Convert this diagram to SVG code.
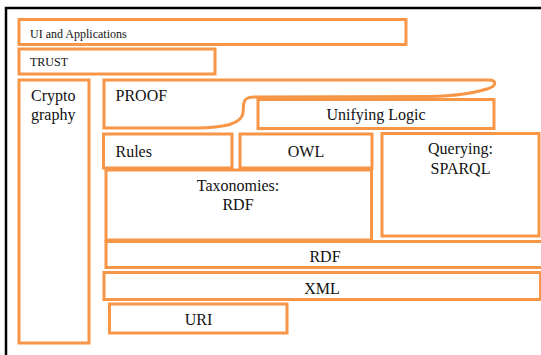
<svg xmlns="http://www.w3.org/2000/svg" width="541" height="355" viewBox="0 0 541 355">
<style>
.b{fill:#fff;stroke:#F79646;stroke-width:3}
text{font-family:'Liberation Serif',serif;fill:#111}
.s{font-size:12px}
.l{font-size:16px}
.c{text-anchor:middle}
</style>
<rect width="541" height="355" fill="#fff"/>
<path d="M6,355 V8 H545" fill="none" stroke="#000" stroke-width="2.5"/>
<g id="ui"><rect class="b" x="19" y="19.5" width="387" height="25"/><text class="s" x="30" y="38">UI and Applications</text></g>
<g id="trust"><rect class="b" x="19" y="49" width="196" height="25"/><text class="s" x="30" y="66">TRUST</text></g>
<g id="crypto"><rect class="b" x="19" y="80" width="70" height="263"/><text class="l" x="31" y="101">Crypto</text><text class="l" x="31" y="120">graphy</text></g>
<g id="proof"><path class="b" d="M104,80 H489 C497,80 497,86 487,89 C474,93 455,96 430,96.5 L254,97 C246,97 243.5,100 243.5,106 L243,113 C242,122 228,128 195,128 L104,128 Z"/><text class="l" x="115.5" y="101">PROOF</text></g>
<g id="unifying"><rect class="b" x="258" y="99.5" width="236" height="29"/><text class="l c" x="376" y="119.5">Unifying Logic</text></g>
<g id="rules"><rect class="b" x="103.5" y="134" width="128.5" height="34"/><text class="l" x="115.5" y="157">Rules</text></g>
<g id="owl"><rect class="b" x="240" y="134" width="132" height="34"/><text class="l c" x="306" y="157">OWL</text></g>
<g id="querying"><rect class="b" x="382" y="133.5" width="157" height="102.5"/><text class="l c" x="460.5" y="153.5">Querying:</text><text class="l c" x="460.5" y="174">SPARQL</text></g>
<g id="taxonomies"><rect class="b" x="106" y="170" width="265.5" height="70"/><text class="l c" x="238" y="191">Taxonomies:</text><text class="l c" x="238" y="210">RDF</text></g>
<g id="rdf"><rect class="b" x="106" y="241.5" width="445" height="26"/><text class="l c" x="325" y="262">RDF</text></g>
<g id="xml"><rect class="b" x="104" y="272.5" width="436.5" height="27"/><text class="l c" x="322" y="294">XML</text></g>
<g id="uri"><rect class="b" x="109.5" y="304" width="177.5" height="29"/><text class="l c" x="198.5" y="325">URI</text></g>
<g id="connectors"></g>
</svg>
